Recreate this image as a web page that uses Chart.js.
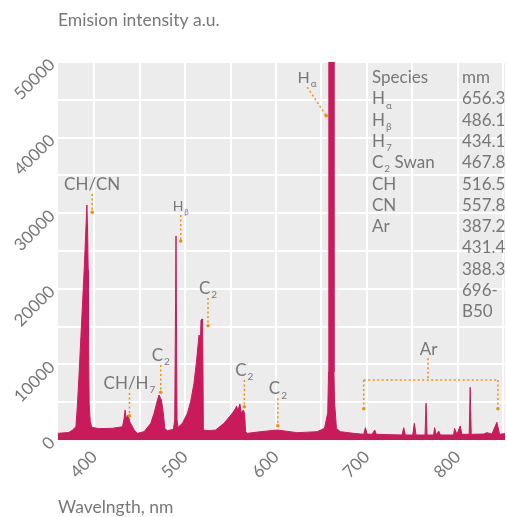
<!DOCTYPE html>
<html>
<head>
<meta charset="utf-8">
<script src="https://cdn.jsdelivr.net/npm/chart.js@4.4.0/dist/chart.umd.min.js"></script>
<style>
  html, body { margin: 0; padding: 0; background: #fff; }
</style>
</head>
<body>
<canvas id="spectrum" width="507" height="517"></canvas>
<script>
// -------------------- dados do espectro --------------------
const wavelength = [
  360, 372, 376, 379.7, 381.2, 383, 385.2, 387, 388.8, 390.4, 391.8, 392.7, 393.2, 393.6, 394.3, 395.5, 397.3,
  405, 420, 431, 432.8, 433.9, 435, 437.2, 439, 443.8, 447.5, 454.7, 462.1, 465.7, 469.5, 471.2, 473.8, 476, 477.5, 480.4,
  487, 488.5, 489.9, 491, 492.1, 496.9, 502.4, 506, 509.7, 512.6, 515.2, 516.7, 517.4, 518.5, 519.2, 520,
  526.2, 533.5, 542.6, 551.9, 555.5, 556.6, 558, 560.2, 561.8, 564, 565.4, 566.5, 568.3, 583, 601.3, 623.3, 645.3,
  653.3, 656.9, 657.8, 658.1, 663.3, 663.7, 664.4, 666.5,
  670.9, 685.5, 696.5, 698.4, 700.2, 705.7, 708.6, 710.4, 738.7, 740.5, 742.3, 750.4, 752.2, 754.1,
  764, 765.1, 766.2, 773.4, 774.5, 776.4, 779, 780.8, 795.4, 796.5, 799.1, 802.7, 804.6, 812.6, 813.7, 814.8,
  828.4, 832.1, 837.6, 843.1, 846, 854
];
const intensity = [
  880, 1000, 1320, 1760, 4300, 8200, 13660, 18000, 22490, 27000, 31090, 27000, 22490, 13660, 4850, 2400, 1680,
  1500, 1550, 1760, 2870, 3970, 2870, 3310, 2430, 1320, 880, 1100, 2200, 3530, 5290, 5950, 5290, 3530, 1540, 1230,
  1410, 2650, 26990, 2650, 1680, 2200, 3530, 5070, 7500, 10580, 13890, 12790, 15870, 16010, 15870, 1320,
  1230, 1320, 2200, 3530, 4190, 4500, 3880, 4760, 3530, 3970, 3530, 1100, 880, 1100, 1320, 970, 1100,
  1540, 3600, 9000, 120000, 120000, 9000, 5000, 1500,
  1100, 880, 750, 1630, 790, 750, 1320, 750, 660, 1630, 660, 660, 2200, 660,
  660, 4850, 660, 660, 1630, 660, 1190, 660, 660, 1540, 750, 1850, 750, 750, 6970, 750,
  790, 970, 790, 2340, 750, 880
];

const xTickLabels = [400, 500, 600, 700, 800];
const yTickLabels = [0, 10000, 20000, 30000, 40000, 50000];

// tabela de espécies (texto, subscrito, resto)
const speciesNames = [
  ['Species', '', ''], ['H', 'α', ''], ['H', 'β', ''], ['H', '7', ''],
  ['C', '2', ' Swan'], ['CH', '', ''], ['CN', '', ''], ['Ar', '', '']
];
const speciesLines = ['mm', '656.3', '486.1', '434.1', '467.8', '516.5', '557.8', '387.2', '431.4', '388.3', '696-', 'B50'];

// rótulos dos picos, em unidades dos eixos
const peakLabels = [
  { text: 'CH/CN', sub: '', x: 397.6, top: 32540, end: 30120 },
  { text: 'H', sub: 'β', x: 495.1, top: 29760, end: 26320, size: 14 },
  { text: 'C', sub: '2', x: 525.1, top: 18780, end: 15120 },
  { text: 'C', sub: '2', x: 473.1, top: 9920, end: 6310 },
  { text: 'CH/H', sub: '7', x: 438.7, top: 6220, end: 3210 },
  { text: 'C', sub: '2', x: 565.1, top: 7940, end: 4400 },
  { text: 'C', sub: '2', x: 602, top: 5520, end: 1890 }
];
const alphaLabel = { text: 'H', sub: 'α', x: 634.1, y: 47260, from: [634.3, 46660], to: [655.2, 42900] };
const arLabel = { text: 'Ar', x: 767.9, y: 11240, stem: [767.3, 10810], bar: 7940, left: 696.5, right: 844.2, end: 4140 };

const fontFamily = 'Lato, "Noto Sans", sans-serif';
const textColor = '#777777';
const orange = '#f0900f';

function subText(ctx, main, sub, rest, x, y, size, align) {
  ctx.font = size + 'px ' + fontFamily;
  const w1 = ctx.measureText(main).width;
  const w3 = rest ? ctx.measureText(rest).width : 0;
  ctx.font = Math.round(size * 0.6) + 'px ' + fontFamily;
  const w2 = sub ? ctx.measureText(sub).width + 1 : 0;
  let sx = x;
  if (align === 'center') sx = x - (w1 + w2 + w3) / 2;
  ctx.textAlign = 'left';
  ctx.textBaseline = 'alphabetic';
  ctx.font = size + 'px ' + fontFamily;
  ctx.fillText(main, sx, y);
  if (sub) {
    ctx.font = Math.round(size * 0.6) + 'px ' + fontFamily;
    ctx.fillText(sub, sx + w1 + 1, y + size * 0.25);
  }
  if (rest) {
    ctx.font = size + 'px ' + fontFamily;
    ctx.fillText(rest, sx + w1 + w2, y);
  }
}

function dotted(ctx, x1, y1, x2, y2) {
  ctx.beginPath();
  ctx.moveTo(x1, y1);
  ctx.lineTo(x2, y2);
  ctx.stroke();
}

function dot(ctx, x, y) {
  ctx.save();
  ctx.setLineDash([]);
  ctx.beginPath();
  ctx.arc(x, y, 1.8, 0, Math.PI * 2);
  ctx.fill();
  ctx.restore();
}

const decor = {
  id: 'decor',
  beforeDraw(chart) {
    const { ctx, chartArea: a } = chart;
    ctx.save();
    ctx.fillStyle = '#ececec';
    ctx.fillRect(a.left, a.top, a.right - a.left, a.bottom - a.top);
    ctx.restore();
  },
  afterDraw(chart) {
    const { ctx, chartArea: a } = chart;
    const xs = chart.scales.x, ys = chart.scales.y;
    ctx.save();

    // títulos dos eixos
    ctx.fillStyle = textColor;
    ctx.font = '17.5px ' + fontFamily;
    ctx.textAlign = 'left';
    ctx.textBaseline = 'alphabetic';
    ctx.fillText('Emision intensity a.u.', a.left, 26);
    ctx.fillText('Wavelngth, nm', a.left, 513);

    // tabela
    speciesNames.forEach((r, i) => subText(ctx, r[0], r[1], r[2], 372, 83 + i * 21.3, 17, 'left'));
    speciesLines.forEach((t, i) => subText(ctx, t, '', '', 462, 83 + i * 21.3, 17, 'left'));

    // rótulos dos picos
    ctx.strokeStyle = orange;
    ctx.fillStyle = orange;
    ctx.lineWidth = 1.5;
    ctx.setLineDash([2, 2.5]);
    peakLabels.forEach(p => {
      const x = xs.getPixelForValue(p.x);
      const y1 = ys.getPixelForValue(p.top);
      const y2 = ys.getPixelForValue(p.end);
      dotted(ctx, x, y1, x, y2);
      dot(ctx, x, y2);
    });
    // H alfa
    let fx = xs.getPixelForValue(alphaLabel.from[0]), fy = ys.getPixelForValue(alphaLabel.from[1]);
    let tx = xs.getPixelForValue(alphaLabel.to[0]), ty = ys.getPixelForValue(alphaLabel.to[1]);
    dotted(ctx, fx, fy, tx, ty);
    dot(ctx, tx, ty);
    // Ar
    const sx = xs.getPixelForValue(arLabel.stem[0]);
    const by = ys.getPixelForValue(arLabel.bar);
    const lx = xs.getPixelForValue(arLabel.left), rx = xs.getPixelForValue(arLabel.right);
    const ey = ys.getPixelForValue(arLabel.end);
    dotted(ctx, sx, ys.getPixelForValue(arLabel.stem[1]), sx, by);
    dotted(ctx, lx, by, rx, by);
    dotted(ctx, lx, by, lx, ey);
    dotted(ctx, rx, by, rx, ey);
    dot(ctx, lx, ey);
    dot(ctx, rx, ey);
    ctx.setLineDash([]);

    ctx.fillStyle = textColor;
    peakLabels.forEach(p => {
      const x = xs.getPixelForValue(p.x);
      const y1 = ys.getPixelForValue(p.top);
      subText(ctx, p.text, p.sub, '', x, y1 - 4, p.size || 17, 'center');
    });
    subText(ctx, alphaLabel.text, alphaLabel.sub, '', xs.getPixelForValue(alphaLabel.x), ys.getPixelForValue(alphaLabel.y), 16, 'center');
    subText(ctx, arLabel.text, '', '', xs.getPixelForValue(arLabel.x), ys.getPixelForValue(arLabel.y), 17, 'center');
    ctx.restore();
  }
};

const points = wavelength.map((w, i) => ({ x: w, y: intensity[i] }));

new Chart(document.getElementById('spectrum'), {
  type: 'line',
  data: {
    datasets: [{
      data: points,
      borderColor: '#c91b5c',
      backgroundColor: '#c91b5c',
      borderWidth: 1,
      pointRadius: 0,
      tension: 0,
      fill: 'origin'
    }]
  },
  options: {
    responsive: false,
    animation: false,
    devicePixelRatio: 1,
    layout: { padding: { top: 62, right: 2, left: 0, bottom: 0 } },
    plugins: { legend: { display: false }, tooltip: { enabled: false } },
    scales: {
      x: {
        type: 'linear',
        min: 360,
        max: 852,
        grid: { color: '#ffffff', lineWidth: 2, drawTicks: false },
        border: { display: false },
        ticks: {
          stepSize: 50,
          includeBounds: false,
          autoSkip: false,
          minRotation: 45,
          maxRotation: 45,
          padding: 7,
          color: textColor,
          font: { family: fontFamily, size: 17 },
          callback: v => xTickLabels.includes(v) ? String(v) : ''
        },
        afterFit(s) { s.height = 77; s.paddingLeft = 0; s.paddingRight = 0; }
      },
      y: {
        min: 0,
        max: 50000,
        grid: { color: '#ffffff', lineWidth: 2, drawTicks: false },
        border: { display: false },
        ticks: {
          stepSize: 5000,
          autoSkip: false,
          minRotation: 45,
          maxRotation: 45,
          padding: 6,
          color: textColor,
          font: { family: fontFamily, size: 17 },
          callback: v => yTickLabels.includes(v) ? String(v) : ''
        },
        afterFit(s) { s.width = 58; s.paddingTop = 0; s.paddingBottom = 0; }
      }
    }
  },
  plugins: [decor]
});
</script>
</body>
</html>
